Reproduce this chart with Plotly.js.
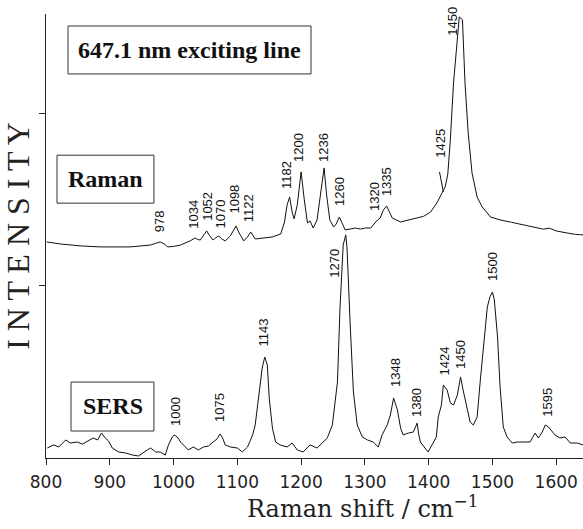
<!DOCTYPE html>
<html>
<head>
<meta charset="utf-8">
<script src="https://cdn.plot.ly/plotly-3.0.1.min.js"></script>
<style>html,body{margin:0;padding:0;background:#fff;}#chart{width:583px;height:529px;}</style>
</head>
<body>
<div id="chart"></div>
<script>
// ---- Data ----
const ramanShift = [801,823,854,885,932,964,972,979,985,991,1000,1011,1026,1031,1034,1038,1042,1048,1052,1056,1062,1066,1071,1075,1081,1089,1094,1098,1102,1110,1116,1121,1128,1139,1155,1168,1174,1178,1182,1186,1189,1194,1200,1205,1210,1214,1219,1225,1230,1236,1240,1245,1251,1255,1260,1265,1269,1277,1285,1293,1301,1309,1315,1320,1324,1329,1334,1338,1343,1356,1371,1382,1392,1403,1413,1421,1426,1430,1434,1439,1445,1448,1453,1457,1462,1468,1476,1484,1497,1512,1530,1548,1564,1580,1589,1595,1600,1617,1630,1642];
const ramanIntensity = [1.256,1.244,1.233,1.227,1.227,1.238,1.248,1.256,1.245,1.227,1.230,1.238,1.262,1.273,1.279,1.270,1.267,1.300,1.320,1.295,1.267,1.280,1.291,1.275,1.262,1.291,1.320,1.349,1.314,1.262,1.285,1.314,1.273,1.279,1.285,1.302,1.372,1.471,1.517,1.430,1.390,1.471,1.663,1.500,1.366,1.378,1.337,1.384,1.529,1.686,1.529,1.384,1.343,1.360,1.401,1.360,1.326,1.331,1.337,1.331,1.337,1.337,1.366,1.384,1.395,1.442,1.465,1.430,1.395,1.372,1.384,1.395,1.405,1.430,1.483,1.541,1.576,1.650,1.849,2.180,2.471,2.564,2.547,2.180,1.890,1.657,1.517,1.459,1.401,1.384,1.370,1.355,1.343,1.330,1.336,1.326,1.320,1.308,1.300,1.297];

const sersShift = [802,812,820,831,838,849,857,865,874,881,887,893,898,904,914,925,936,945,951,959,964,972,979,987,992,998,1001,1006,1011,1016,1023,1031,1039,1047,1055,1062,1068,1073,1077,1081,1089,1100,1108,1116,1124,1128,1133,1139,1143,1147,1150,1155,1160,1167,1178,1186,1194,1203,1214,1225,1233,1241,1249,1257,1261,1266,1270,1272,1277,1282,1288,1296,1304,1313,1321,1327,1335,1340,1345,1351,1356,1360,1368,1376,1382,1384,1387,1395,1399,1407,1412,1415,1420,1423,1429,1434,1439,1445,1450,1454,1461,1465,1470,1476,1481,1486,1492,1496,1500,1503,1508,1512,1517,1523,1531,1539,1548,1559,1567,1572,1578,1583,1588,1594,1598,1606,1614,1622,1633,1642];
const sersIntensity = [0.058,0.076,0.064,0.105,0.087,0.093,0.081,0.099,0.116,0.105,0.145,0.116,0.099,0.058,0.035,0.029,0.017,0.012,0.029,0.047,0.058,0.035,0.035,0.017,0.076,0.122,0.134,0.122,0.093,0.076,0.047,0.064,0.047,0.064,0.070,0.093,0.110,0.140,0.116,0.076,0.064,0.058,0.035,0.064,0.134,0.192,0.349,0.523,0.587,0.541,0.349,0.174,0.093,0.076,0.064,0.087,0.047,0.035,0.076,0.058,0.087,0.116,0.192,0.442,0.872,1.238,1.297,1.221,0.773,0.384,0.192,0.122,0.105,0.093,0.064,0.134,0.192,0.250,0.349,0.279,0.174,0.134,0.145,0.151,0.203,0.145,0.093,0.058,0.035,0.087,0.122,0.238,0.308,0.424,0.395,0.320,0.308,0.366,0.471,0.395,0.279,0.209,0.192,0.238,0.453,0.669,0.878,0.936,0.965,0.919,0.703,0.413,0.180,0.122,0.087,0.093,0.093,0.093,0.145,0.116,0.151,0.192,0.180,0.151,0.134,0.116,0.122,0.087,0.087,0.076];

const xTickValues = [800,900,1000,1100,1200,1300,1400,1500,1600];
const xTickLabels = ['800','900','1000','1100','1200','1300','1400','1500','1600'];

const ramanPeakLabels = ['978','1034','1052','1070','1098','1122','1182','1200','1236','1260','1320','1335','1425','1450'];
const ramanLabelX = [979,1031,1053,1073,1095,1117,1178,1196,1235,1260,1315,1334,1418,1437];
const ramanLabelY = [1.308,1.326,1.372,1.326,1.413,1.366,1.558,1.715,1.715,1.459,1.430,1.517,1.738,2.448];

const sersPeakLabels = ['1000','1075','1143','1270','1348','1380','1424','1450','1500','1595'];
const sersLabelX = [1003,1072,1141,1252,1348,1381,1424,1450,1500,1586];
const sersLabelY = [0.180,0.203,0.645,1.041,0.407,0.233,0.477,0.512,1.023,0.233];

// ---- Styling ----
const ink = '#111';
const peakFont = {family: 'Liberation Sans, Arial, sans-serif', size: 13, color: ink};
const boxFont = {family: 'Liberation Serif, Times New Roman, serif', size: 24, color: ink, weight: 'bold'};

function peakAnnotations(labels, xs, ys) {
  return labels.map((t, i) => ({
    x: xs[i], y: ys[i], xref: 'x', yref: 'y', text: t, showarrow: false,
    textangle: -90, xanchor: 'center', yanchor: 'bottom', font: peakFont, borderpad: 0
  }));
}

const traces = [
  {x: ramanShift, y: ramanIntensity, type: 'scatter', mode: 'lines', name: 'Raman',
   line: {color: ink, width: 1}, hoverinfo: 'skip'},
  {x: sersShift, y: sersIntensity, type: 'scatter', mode: 'lines', name: 'SERS',
   line: {color: ink, width: 1}, hoverinfo: 'skip'}
];

const annotations = [
  ...peakAnnotations(ramanPeakLabels, ramanLabelX, ramanLabelY),
  ...peakAnnotations(sersPeakLabels, sersLabelX, sersLabelY),
  {xref: 'paper', yref: 'paper', x: 0.267, y: 0.919, text: '647.1 nm exciting line', showarrow: false,
   xanchor: 'center', yanchor: 'middle', font: boxFont},
  {xref: 'paper', yref: 'paper', x: 0.111, y: 0.628, text: 'Raman', showarrow: false,
   xanchor: 'center', yanchor: 'middle', font: boxFont},
  {xref: 'paper', yref: 'paper', x: 0.124, y: 0.116, text: 'SERS', showarrow: false,
   xanchor: 'center', yanchor: 'middle', font: boxFont},
  {xref: 'paper', yref: 'paper', x: 0.590, y: -0.152, text: 'Raman shift&nbsp;/&nbsp;cm<sup>−1</sup>', showarrow: false,
   xanchor: 'center', yanchor: 'bottom', font: {family: 'DejaVu Serif, serif', size: 24, color: '#222'}}
];

const boxLine = {color: '#333', width: 1};
const shapes = [
  {type: 'rect', xref: 'paper', yref: 'paper', x0: 0.041, x1: 0.4935, y0: 0.865, y1: 0.973, line: boxLine},
  {type: 'rect', xref: 'paper', yref: 'paper', x0: 0.0205, x1: 0.201, y0: 0.574, y1: 0.682, line: boxLine},
  {type: 'rect', xref: 'paper', yref: 'paper', x0: 0.0466, x1: 0.201, y0: 0.0608, y1: 0.171, line: boxLine},
  {type: 'line', xref: 'x', yref: 'y', x0: 1417, y0: 1.663, x1: 1423, y1: 1.547, line: {color: ink, width: 1}}
];

const layout = {
  width: 583, height: 529,
  margin: {l: 46, r: 0, t: 14, b: 71, pad: 0},
  paper_bgcolor: '#fff', plot_bgcolor: '#fff',
  showlegend: false,
  xaxis: {
    range: [800, 1642], tickvals: xTickValues, ticktext: xTickLabels,
    ticks: 'outside', ticklen: 6, tickcolor: '#222', tickwidth: 1,
    ticklabelstandoff: 3,
    showline: true, linecolor: '#222', linewidth: 1, mirror: false,
    showgrid: false, zeroline: false,
    tickfont: {family: 'DejaVu Sans, sans-serif', size: 17, color: '#222'}
  },
  yaxis: {
    range: [0, 2.581], tickvals: [1, 2], showticklabels: false,
    ticks: 'outside', ticklen: 6, tickcolor: '#222', tickwidth: 1,
    showline: true, linecolor: '#222', linewidth: 1,
    showgrid: false, zeroline: false,
    title: {text: 'I N T E N S I T Y', font: {family: 'Liberation Serif, Times New Roman, serif', size: 32, color: '#222'}}
  },
  annotations: annotations,
  shapes: shapes
};

Plotly.newPlot('chart', traces, layout, {displayModeBar: false, staticPlot: true});
</script>
</body>
</html>
